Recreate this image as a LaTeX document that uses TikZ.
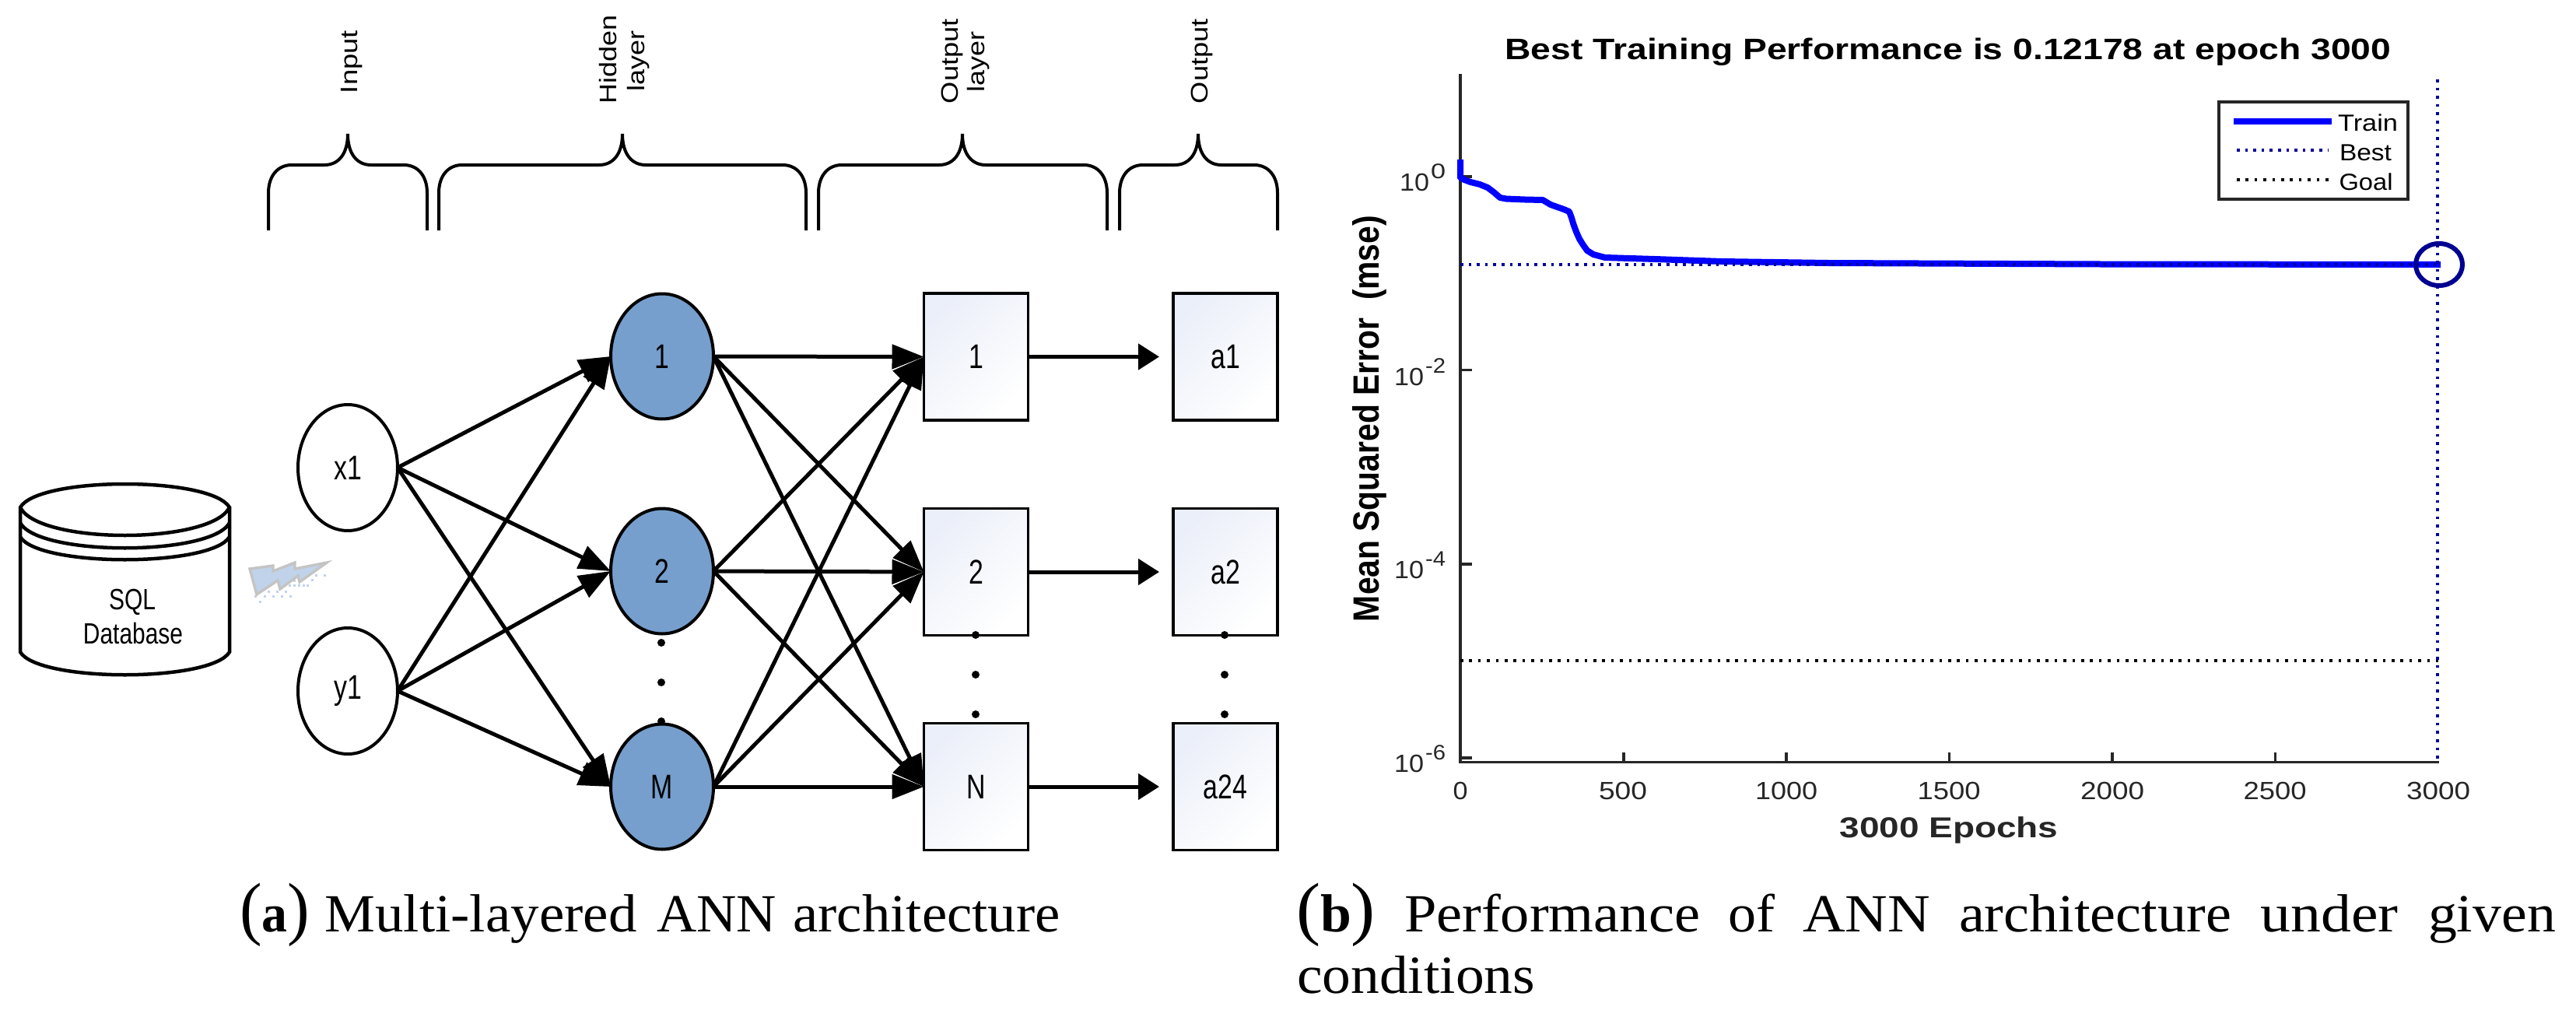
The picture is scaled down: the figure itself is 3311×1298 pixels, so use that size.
\documentclass[tikz,border=0pt]{standalone}
\usepackage{fontspec}
\usepackage{graphicx}
\setmainfont{Liberation Serif}
\setsansfont{Liberation Sans}
\usetikzlibrary{arrows.meta,shapes.geometric,calc}
\definecolor{hid}{HTML}{769FCD}
\definecolor{lav}{HTML}{EBEFF9}
\definecolor{axc}{HTML}{262626}
\definecolor{bestc}{HTML}{00009B}
\definecolor{circc}{HTML}{000090}
\definecolor{trainc}{HTML}{0000FF}
\definecolor{boltf}{HTML}{C0D3EA}
\definecolor{boltd}{HTML}{C4C4C4}
\newcommand\sz[1]{\fontsize{#1}{#1}\selectfont}
\newcommand\fit[2]{\resizebox{#1pt}{\height}{#2}}
\newcommand\nar[1]{\scalebox{0.77}[1]{#1}}
\tikzset{
  txt/.style={inner sep=0pt,outer sep=0pt,anchor=base},
  lab/.style={inner sep=0pt,outer sep=0pt,font=\sffamily\sz{44}},
  inpn/.style={lab,ellipse,draw=black,fill=white,line width=4pt,minimum width=128pt,minimum height=162pt},
  hidn/.style={lab,ellipse,draw=black,fill=hid,line width=4pt,minimum width=132pt,minimum height=161pt},
  boxn/.style={lab,rectangle,draw=black,line width=3.6pt,minimum width=134pt,minimum height=163pt,
     left color=lav,middle color=white,right color=white,shading angle=45},
  dotn/.style={circle,fill=black,inner sep=0pt,minimum size=10pt},
  bigarrow/.style={draw=black,line width=5pt,-{Triangle[length=41pt,width=31pt]}},
  outarrow/.style={draw=black,line width=5pt,shorten >=18pt,-{Triangle[length=27pt,width=33pt]}},
  brace/.style={draw=black,line width=4pt},
  toplab/.style={txt,rotate=90,font=\sffamily\sz{30.7}},
  ticklab/.style={txt,font=\sffamily\sz{32},text=axc},
  ylab/.style={inner sep=0pt,outer sep=0pt,anchor=base east,font=\sffamily\sz{32},text=axc},
  dotted best/.style={draw=bestc,line width=3.6pt,dash pattern=on 3.6pt off 7pt},
  dotted goal/.style={draw=black,line width=3.6pt,dash pattern=on 3.6pt off 7.8pt},
  capt/.style={txt,font=\rmfamily\sz{69}},
}
\newcommand\bracepath[3]{% left, tip, right
  \draw[brace] (#1,296) -- (#1,248) .. controls (#1,226) and (#1+12,212) .. (#1+30,212) -- (#2-30,212)
    .. controls (#2-12,212) and (#2,198) .. (#2,172) .. controls (#2,198) and (#2+12,212) .. (#2+30,212)
    -- (#3-30,212) .. controls (#3-12,212) and (#3,226) .. (#3,248) -- (#3,296);}
\begin{document}
\begin{tikzpicture}[x=1pt,y=-1pt]
\useasboundingbox[fill=white] (0,0) rectangle (3311,1298);

% braces
\bracepath{345}{447}{549}
\bracepath{564}{800}{1036}
\bracepath{1052}{1237}{1423}
\bracepath{1439}{1540}{1642}
\node[toplab] (tInput) at (459,79.5) {\fit{81}{Input}};
\node[toplab] (tHid) at (792,76) {\fit{114}{Hidden}};
\node[toplab] (tHid2) at (828,78) {\fit{78}{layer}};
\node[toplab] (tOut) at (1231,78.5) {\fit{109}{Output}};
\node[toplab] (tOut2) at (1265,79) {\fit{78}{layer}};
\node[toplab] (tOut3) at (1552,78.5) {\fit{109}{Output}};

% database
\draw[black,line width=4.5pt,fill=white] (26,652) .. controls (50,612) and (271,612) .. (295,652)
   -- (295,838) .. controls (271,877) and (50,877) .. (26,838) -- cycle;
\draw[black,line width=4.5pt] (26,652) .. controls (50,700) and (271,700) .. (295,652);
\draw[black,line width=4.5pt] (26,672) .. controls (50,715) and (271,715) .. (295,672);
\draw[black,line width=4.5pt] (26,690) .. controls (50,729) and (271,729) .. (295,690);
\node[txt,font=\sffamily\sz{37.7}] (sql) at (170,783) {\fit{60}{SQL}};
\node[txt,font=\sffamily\sz{37.7}] (db) at (171,827) {\fit{128}{Database}};

% bolt
\foreach \p/\q in {985/500,1003/520,1020/500,1035/480,1053/500,1068/480,1087/500,1103/480,1120/500,1118/458,1135/458,1152/458,1170/458,1187/458,1135/440,1203/437,1220/418,1253/418}
  \fill[boltf] ({\p/3-1.5},{\q/3+600-1.5}) rectangle ++(3,3);
\draw[boltd,fill=boltf,line width=3.4pt,line join=miter] (321,731) -- (351,727) -- (351,734) -- (379,723) -- (379,731) -- (420,723)
   -- (385,748) -- (383,740) -- (360,757) -- (357,746) -- (330,764) -- cycle;

% dots
\node[dotn] (d1) at (850,826) {};
\node[dotn] (d2) at (850,877) {};
\node[dotn] (d3) at (850,927) {};
\node[dotn] (d5) at (1254,867) {};
\node[dotn] (d6) at (1254,918) {};
\node[dotn] (d8) at (1574,867) {};
\node[dotn] (d9) at (1574,918) {};

% nodes
\node[inpn] (x1) at (447,601) {\nar{x1}};
\node[inpn] (y1) at (447,888) {\nar{y1}};
\node[hidn] (h1) at (851,458) {\nar{1}};
\node[hidn] (h2) at (851,734) {\nar{2}};
\node[hidn] (hM) at (851,1011) {\nar{M}};
\node[boxn] (o1) at (1254.5,458.5) {\nar{1}};
\node[boxn] (o2) at (1254.5,735) {\nar{2}};
\node[boxn] (oN) at (1254.5,1011) {\nar{N}};
\node[boxn] (a1) at (1575,458.5) {\nar{a1}};
\node[boxn] (a2) at (1575,735) {\nar{a2}};
\node[boxn] (a24) at (1575,1011) {\nar{a24}};
\node[dotn] (d4) at (1254,816) {};
\node[dotn] (d7) at (1574,816) {};

% connectors
\foreach \s in {x1,y1} \foreach \t in {h1,h2,hM}
  \draw[bigarrow] (\s.east) -- (\t.west);
\foreach \s in {h1,h2,hM} \foreach \t in {o1,o2,oN}
  \draw[bigarrow] (\s.east) -- (\t.west);
\draw[outarrow] (o1.east) -- (a1.west);
\draw[outarrow] (o2.east) -- (a2.west);
\draw[outarrow] (oN.east) -- (a24.west);

% captions
\node[capt] (c1) at (353,1197) {\fit{90}{{\sz{90}(}\textbf{a}{\sz{90})}}};
\node[capt] (c2) at (618,1197) {\fit{401}{Multi-layered}};
\node[capt] (c3) at (921,1197) {\fit{154}{ANN}};
\node[capt] (c4) at (1191,1197) {\fit{343}{architecture}};
\node[capt] (c5) at (1717,1197) {\fit{102}{{\sz{90}(}\textbf{b}{\sz{90})}}};
\node[capt] (c6) at (1995,1197) {\fit{380}{Performance}};
\node[capt] (c7) at (2251,1197) {\fit{60}{of}};
\node[capt] (c8) at (2399,1197) {\fit{164}{ANN}};
\node[capt] (c9) at (2693,1197) {\fit{350}{architecture}};
\node[capt] (c10) at (2994,1197) {\fit{177}{under}};
\node[capt] (c11) at (3203,1197) {\fit{164}{given}};
\node[capt] (c12) at (1820,1276) {\fit{306}{conditions}};

% chart
\node[txt,font=\sffamily\bfseries\sz{38}] (title) at (2504,77) {\fit{1139}{Best Training Performance is 0.12178 at epoch 3000}};
\node[txt,rotate=90,font=\sffamily\bfseries\sz{47}] (ytitle) at (1772,538) {\fit{522}{Mean Squared Error~~(mse)}};
\node[txt,font=\sffamily\bfseries\sz{37},text=axc] (xtitle) at (2505,1076) {\fit{281}{3000 Epochs}};

\draw[axc,line width=4pt] (1877,95) -- (1877,981);
\draw[axc,line width=3.5pt] (1875,979.5) -- (3135,979.5);
\foreach \yy in {227,475.5,725,974}
  \draw[axc,line width=3.5pt] (1877,\yy) -- (1892,\yy);
\foreach \xx in {2087,2296,2505.5,2715,2924.5}
  \draw[axc,line width=3.5pt] (\xx,979) -- (\xx,967);

\node[ticklab] (t0) at (1877,1027) {\fit{19}{0}};
\node[ticklab] (t1) at (2086,1027) {\fit{62}{500}};
\node[ticklab] (t2) at (2296,1027) {\fit{80}{1000}};
\node[ticklab] (t3) at (2505,1027) {\fit{81}{1500}};
\node[ticklab] (t4) at (2715,1027) {\fit{82}{2000}};
\node[ticklab] (t5) at (2924,1027) {\fit{81}{2500}};
\node[ticklab] (t6) at (3134,1027) {\fit{82}{3000}};

\node[ylab] (y0) at (1858,245) {\fit{38}{10}\hspace{2pt}\raisebox{16pt}{\sz{27}\fit{19}{0}}};
\node[ylab] (y2) at (1858,495) {\fit{38}{10}\hspace{2pt}\raisebox{16pt}{\sz{27}\fit{26}{-2}}};
\node[ylab] (y4) at (1858,743) {\fit{38}{10}\hspace{2pt}\raisebox{16pt}{\sz{27}\fit{26}{-4}}};
\node[ylab] (y6) at (1858,992) {\fit{38}{10}\hspace{2pt}\raisebox{16pt}{\sz{27}\fit{26}{-6}}};

% training curve
\draw[trainc,line width=8pt,line join=round] (1877,205) -- (1877,228) -- (1882,231) -- (1890,234) -- (1902,237) -- (1912,241) -- (1920,247) -- (1928,254) -- (1936,255.5) -- (1960,256.5) -- (1983,257) -- (1993,263) -- (2010,269) -- (2017,272) -- (2020,280) -- (2022,287) -- (2026,298) -- (2030,307) -- (2035,315) -- (2040,322) -- (2048,327) -- (2063,331) -- (2127,333) -- (2213,336) -- (2350,338) -- (2700,339.5) -- (3137,340);
\draw[dotted best] (1877,340) -- (3134,340);
\draw[dotted goal] (1877,849) -- (3134,849);
\draw[dotted best] (3133,102) -- (3133,979);
\draw[circc,line width=6pt] (3135,340) ellipse [x radius=30pt,y radius=27pt];

% legend
\node[draw=axc,line width=3.5pt,fill=white,minimum width=243pt,minimum height=125pt,inner sep=0pt,outer sep=0pt] (lg) at (2973.5,193.5) {};
\draw[trainc,line width=8pt] (2871,156) -- (2997,156);
\draw[dotted best] (2875,193) -- (2993,193);
\draw[dotted goal] (2875,231) -- (2993,231);
\node[txt,font=\sffamily\sz{30}] (l1) at (3043.5,168) {\fit{77}{Train}};
\node[txt,font=\sffamily\sz{30}] (l2) at (3040.5,206) {\fit{67}{Best}};
\node[txt,font=\sffamily\sz{30}] (l3) at (3041,244) {\fit{69}{Goal}};
\end{tikzpicture}
\end{document}
